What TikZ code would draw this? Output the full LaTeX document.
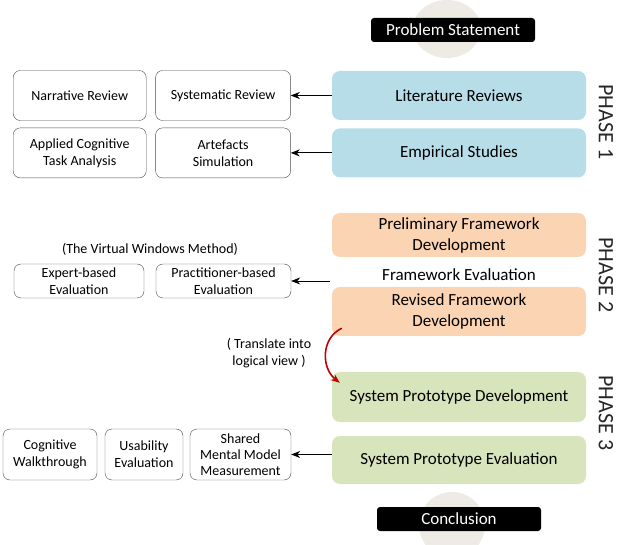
\documentclass[tikz,border=0pt]{standalone}
\usepackage{fontspec}
\setmainfont{Carlito}
\usepackage{tikz}
\usetikzlibrary{positioning,arrows.meta,calc}
\definecolor{litblue}{HTML}{B7DDE8}
\definecolor{frmorange}{HTML}{FBD4B4}
\definecolor{sysgreen}{HTML}{D7E4BC}
\definecolor{ballgrey}{HTML}{EDEBE4}
\definecolor{transred}{HTML}{C00000}

\begin{document}
\begin{tikzpicture}[x=1pt,y=1pt,>={Stealth[length=9pt,width=7pt]},
  stage/.style={rounded corners=8pt,minimum width=254pt,minimum height=49pt,align=center,
    font=\fontsize{17}{21}\selectfont},
  sub/.style={draw=black!70,rounded corners=7pt,minimum height=50pt,align=center,
    font=\fontsize{14}{17}\selectfont},
  term/.style={fill=black,text=white,rounded corners=3pt,minimum width=164pt,minimum height=24pt,
    inner sep=0pt,font=\fontsize{17}{20}\selectfont},
  phase/.style={rotate=-90,font=\fontsize{22}{24}\selectfont,text=black!85}]
  \useasboundingbox (0,0) rectangle (632,544);
  % grey balls behind start and end
  \begin{scope}
    \clip (0,0) rectangle (632,544);
    \fill[ballgrey] (447,515) ellipse (34 and 29);
    \fill[ballgrey] (452,19) ellipse (33 and 33);
  \end{scope}
  \node[term] (prob) at (453,514) {Problem Statement};
  \node[term] (concl) at (459,25) {Conclusion};
  % phase 1
  \node[stage,fill=litblue] (lit) at (459,448.5) {Literature Reviews};
  \node[stage,fill=litblue,below=8pt of lit] (emp) {Empirical Studies};
  \node[sub,minimum width=135pt,left=41pt of lit] (sysr) {Systematic Review};
  \node[sub,minimum width=133pt,left=9pt of sysr] (narr) {Narrative Review};
  \node[sub,minimum width=135pt,left=41pt of emp] (artf) {Artefacts\\Simulation};
  \node[sub,minimum width=133pt,left=9pt of artf] (acta) {Applied Cognitive\\Task Analysis};
  \draw[->,thick] (lit.west)--(sysr.east);
  \draw[->,thick] (emp.west)--(artf.east);
  \node[phase] (ph1) at (606,422) {PHASE 1};
  % phase 2
  \node[stage,fill=frmorange,minimum height=44pt] (prel) at (459,309) {Preliminary Framework\\Development};
  \node[font=\fontsize{17}{20}\selectfont] (feval) at (459,269) {Framework Evaluation};
  \node[stage,fill=frmorange] (rev) at (459,232.5) {Revised Framework\\Development};
  \node[sub,minimum width=135pt,minimum height=34pt,inner sep=0pt] (prac) at (223.5,263) {Practitioner-based\\Evaluation};
  \node[sub,minimum width=130pt,minimum height=34pt,inner sep=0pt] (expt) at (79,263) {Expert-based\\Evaluation};
  \node[font=\fontsize{14}{17}\selectfont] (vwm) at (150,295) {(The Virtual Windows Method)};
  \coordinate (fein) at ($(rev.west)+(-2,30.5)$);
  \draw[->,thick] (fein)--(fein-|prac.east);
  \node[phase] (ph2) at (606,269) {PHASE 2};
  % phase 3
  \node[stage,fill=sysgreen,minimum height=50pt] (spd) at (459,147) {System Prototype Development};
  \node[stage,fill=sysgreen,minimum height=48pt] (spe) at (459,84) {System Prototype Evaluation};
  \node[sub,minimum width=101pt,minimum height=51pt,inner sep=0pt,font=\fontsize{14}{16}\selectfont] (smm) at (240.5,89.5) {Shared\\Mental Model\\Measurement};
  \node[sub,minimum width=78pt,minimum height=51pt,inner sep=0pt] (usab) at (144,89.5) {Usability\\Evaluation};
  \node[sub,minimum width=94pt,minimum height=51pt,inner sep=0pt] (cogw) at (50,89.5) {Cognitive\\Walkthrough};
  \draw[->,thick] (spe.west|-smm.east)--(smm.east);
  \node[phase] (ph3) at (606,131) {PHASE 3};
  % translation arrow
  \node[font=\fontsize{14}{17}\selectfont,align=center] (trans) at (269,191) {( Translate into\\logical view )};
  \coordinate (tstart) at ($(rev.south west)+(10,8)$);
  \coordinate (tend) at ($(spd.north west)+(8,-11)$);
  \draw[->,transred,line width=1.6pt] (tstart) .. controls (321,206) and (321,176) .. (tend);
\end{tikzpicture}
\end{document}
